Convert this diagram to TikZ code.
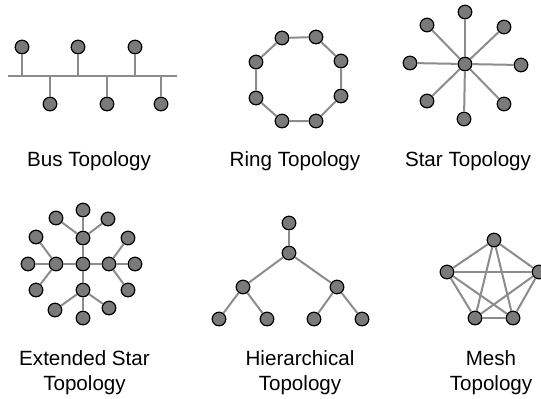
\documentclass[tikz,border=0pt]{standalone}
\usepackage{fontspec}
\setmainfont{Liberation Sans}
\begin{document}
\begin{tikzpicture}[x=0.5pt, y=-0.5pt,
    host/.style={circle, draw=black, line width=0.6pt, fill=hostgray, minimum size=6.8pt, inner sep=0pt},
    link/.style={draw=linkgray, line width=1pt},
    caption/.style={font=\fontsize{10.3}{12.3}\selectfont, align=center, anchor=base, inner sep=0pt}]
    \definecolor{hostgray}{RGB}{122,122,122}
    \definecolor{linkgray}{RGB}{140,140,140}
    \useasboundingbox (0,0) rectangle (541,398);

    % bus
    \coordinate (busL) at (8,76);
    \coordinate (busR) at (177,76);
    \draw [link] (busL) -- (busR);
    \node [host] (bus1) at (22,47) {};
    \node [host] (bus2) at (50,104) {};
    \node [host] (bus3) at (78,47) {};
    \node [host] (bus4) at (107,104) {};
    \node [host] (bus5) at (135,47) {};
    \node [host] (bus6) at (161,104) {};
    \draw [link] (bus1) -- (bus1 |- busL);
    \draw [link] (bus2) -- (bus2 |- busL);
    \draw [link] (bus3) -- (bus3 |- busL);
    \draw [link] (bus4) -- (bus4 |- busL);
    \draw [link] (bus5) -- (bus5 |- busL);
    \draw [link] (bus6) -- (bus6 |- busL);
    \node [caption] (busT) at (89,166) {Bus Topology};

    % ring
    \node [host] (ring1) at (282,38) {};
    \node [host] (ring2) at (316,37) {};
    \node [host] (ring3) at (341,61) {};
    \node [host] (ring4) at (341,96) {};
    \node [host] (ring5) at (316,121) {};
    \node [host] (ring6) at (282,121) {};
    \node [host] (ring7) at (256,98) {};
    \node [host] (ring8) at (256,62) {};
    \draw [link] (ring1) -- (ring2) -- (ring3) -- (ring4) -- (ring5) -- (ring6) -- (ring7) -- (ring8) -- (ring1);
    \node [caption] (ringT) at (295,166) {Ring Topology};

    % star
    \node [host] (hub) at (465,64) {};
    \node [host] (star1) at (465,12) {};
    \node [host] (star2) at (504,27) {};
    \node [host] (star3) at (521,65) {};
    \node [host] (star4) at (504,104) {};
    \node [host] (star5) at (464,119) {};
    \node [host] (star6) at (427,101) {};
    \node [host] (star7) at (410,63) {};
    \node [host] (star8) at (427,25) {};
    \draw [link] (hub) -- (star1);
    \draw [link] (hub) -- (star2);
    \draw [link] (hub) -- (star3);
    \draw [link] (hub) -- (star4);
    \draw [link] (hub) -- (star5);
    \draw [link] (hub) -- (star6);
    \draw [link] (hub) -- (star7);
    \draw [link] (hub) -- (star8);
    \node [caption] (starT) at (468,166) {Star Topology};

    % extended star
    \node [host] (xc) at (83,264) {};
    \node [host] (xu) at (83,238) {};
    \node [host] (xl) at (56,264) {};
    \node [host] (xr) at (109,264) {};
    \node [host] (xd) at (83,290) {};
    \node [host] (xu1) at (56,218) {};
    \node [host] (xu2) at (83,210) {};
    \node [host] (xu3) at (108,219) {};
    \node [host] (xl1) at (36,237) {};
    \node [host] (xl2) at (28,264) {};
    \node [host] (xl3) at (36,290) {};
    \node [host] (xr1) at (128,238) {};
    \node [host] (xr2) at (135,264) {};
    \node [host] (xr3) at (128,290) {};
    \node [host] (xd1) at (55,310) {};
    \node [host] (xd2) at (83,318) {};
    \node [host] (xd3) at (109,308) {};
    \draw [link] (xc) -- (xu);
    \draw [link] (xc) -- (xl);
    \draw [link] (xc) -- (xr);
    \draw [link] (xc) -- (xd);
    \draw [link] (xu) -- (xu1);
    \draw [link] (xu) -- (xu2);
    \draw [link] (xu) -- (xu3);
    \draw [link] (xl) -- (xl1);
    \draw [link] (xl) -- (xl2);
    \draw [link] (xl) -- (xl3);
    \draw [link] (xr) -- (xr1);
    \draw [link] (xr) -- (xr2);
    \draw [link] (xr) -- (xr3);
    \draw [link] (xd) -- (xd1);
    \draw [link] (xd) -- (xd2);
    \draw [link] (xd) -- (xd3);
    \node [caption] (xT) at (84.5,390) {Extended Star\\Topology};

    % hierarchical
    \node [host] (root) at (289,223) {};
    \node [host] (mid) at (289,253) {};
    \node [host] (midL) at (243,287) {};
    \node [host] (midR) at (337,287) {};
    \node [host] (leaf1) at (219,319) {};
    \node [host] (leaf2) at (267,319) {};
    \node [host] (leaf3) at (314,319) {};
    \node [host] (leaf4) at (362,319) {};
    \draw [link] (root) -- (mid);
    \draw [link] (mid) -- (midL);
    \draw [link] (mid) -- (midR);
    \draw [link] (midL) -- (leaf1);
    \draw [link] (midL) -- (leaf2);
    \draw [link] (midR) -- (leaf3);
    \draw [link] (midR) -- (leaf4);
    \node [caption] (hierT) at (300,390) {Hierarchical\\Topology};

    % mesh
    \node [host] (m1) at (494,240) {};
    \node [host] (m2) at (539,272) {};
    \node [host] (m3) at (513,318) {};
    \node [host] (m4) at (475,318) {};
    \node [host] (m5) at (447,272) {};
    \draw [link] (m1) -- (m2);
    \draw [link] (m1) -- (m3);
    \draw [link] (m1) -- (m4);
    \draw [link] (m1) -- (m5);
    \draw [link] (m2) -- (m3);
    \draw [link] (m2) -- (m4);
    \draw [link] (m2) -- (m5);
    \draw [link] (m3) -- (m4);
    \draw [link] (m3) -- (m5);
    \draw [link] (m4) -- (m5);
    \node [caption] (meshT) at (491,390) {Mesh\\Topology};
\end{tikzpicture}
\end{document}
